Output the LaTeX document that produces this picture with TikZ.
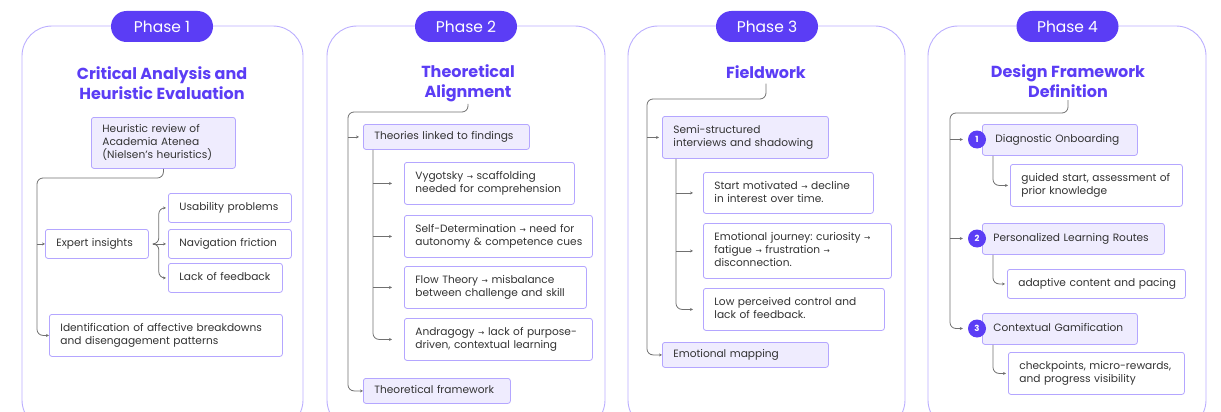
\documentclass[tikz,border=0pt]{standalone}
\usepackage{fontspec}
\setmainfont{Poppins}
\newfontfamily\symf{DejaVu Sans}
\usetikzlibrary{arrows.meta}
\definecolor{pur}{HTML}{5B3DF5}
\definecolor{lav}{HTML}{EFECFE}
\definecolor{bord}{HTML}{B4A6FF}
\definecolor{pbord}{HTML}{BBAEFF}
\definecolor{txt}{HTML}{333333}
\definecolor{lin}{HTML}{707070}
\frenchspacing
\newcommand\ra{{\symf\fontsize{7.5}{7.5}\selectfont →}}
\newcommand\tl[1]{\begin{tabular}{@{}l@{}}#1\end{tabular}}
\begin{document}
\begin{tikzpicture}[x=1pt,y=-1pt,
 panel/.style={draw=pbord,line width=0.9pt,rounded corners=30pt},
 pill/.style={fill=pur,text=white,rounded corners=15.5pt,minimum width=102pt,minimum height=31pt,inner sep=0pt,font=\fontsize{15.5}{15.5}\selectfont},
 ttl/.style={text=pur,align=center,font=\bfseries\fontsize{16}{20}\selectfont,inner sep=0pt},
 wbox/.style={draw=bord,fill=white,line width=0.8pt,rounded corners=2.5pt,inner xsep=11pt,inner ysep=0pt,anchor=north west,align=left,text=txt,font=\fontsize{10.6}{13}\selectfont},
 lbox/.style={wbox,fill=lav},
 conn/.style={draw=lin,line width=0.8pt,rounded corners=6pt,-{Stealth[length=3pt,width=3pt]}},
 num/.style={circle,fill=pur,text=white,minimum size=18pt,inner sep=0pt,font=\bfseries\fontsize{8.5}{8.5}\selectfont}]
\useasboundingbox (0,0) rectangle (1221,412);
\clip (0,0) rectangle (1221,412);
% panels
\draw[panel] (22,26) rectangle (303,430);
\draw[panel] (327,26) rectangle (605,430);
\draw[panel] (628,26) rectangle (905,430);
\draw[panel] (928,26) rectangle (1206,430);
\node[pill] (p1) at (162,26.5) {Phase 1};
\node[pill] (p2) at (466,26.5) {Phase 2};
\node[pill] (p3) at (767,26.5) {Phase 3};
\node[pill] (p4) at (1067.5,26.5) {Phase 4};
% ---------- Phase 1
\node[ttl] (t1) at (162,83) {Critical Analysis and\\Heuristic Evaluation};
\node[lbox,text width=122pt,minimum height=51pt] (h1) at (91,117) {\tl{Heuristic review of\\Academia Atenea\\(Nielsen’s heuristics)}};
\node[wbox,text width=81pt,minimum height=29pt] (exp) at (45,229) {\tl{Expert insights}};
\node[wbox,text width=101pt,minimum height=29pt] (us) at (168,193) {\tl{Usability problems}};
\node[wbox,text width=101pt,minimum height=29pt] (nav) at (168,229) {\tl{Navigation friction}};
\node[wbox,text width=92pt,minimum height=29pt] (lack) at (168,263) {\tl{Lack of feedback}};
\node[wbox,text width=211pt,minimum height=42pt] (idf) at (49,314) {\tl{Identification of affective breakdowns\\and disengagement patterns}};
\coordinate (k1) at (37,178);
\draw[conn] (h1.south) |- (k1) |- (idf.west);
\draw[conn] (k1 |- exp.west) -- (exp.west);
\coordinate (b1) at ([xshift=4pt]exp.east);
\draw[conn,shorten >=2pt] (b1) -- ++(6,0) |- (us.west);
\draw[conn,shorten >=2pt] (b1) -- (nav.west);
\draw[conn,shorten >=2pt] (b1) -- ++(6,0) |- (lack.west);
% ---------- Phase 2
\node[ttl] (t2) at (468,83) {Theoretical\\Alignment};
\node[lbox,text width=144pt,minimum height=25pt] (th) at (363,124) {\tl{Theories linked to findings}};
\node[wbox,text width=148pt,minimum height=42pt] (vy) at (404,162) {\tl{Vygotsky \ra{} scaffolding\\needed for comprehension}};
\node[wbox,text width=166pt,minimum height=42pt] (sd) at (404,215) {\tl{Self-Determination \ra{} need for\\autonomy \& competence cues}};
\node[wbox,text width=160pt,minimum height=42pt] (fl) at (404,266) {\tl{Flow Theory \ra{} misbalance\\between challenge and skill}};
\node[wbox,text width=166pt,minimum height=42pt] (an) at (404,318) {\tl{Andragogy \ra{} lack of purpose-\\driven, contextual learning}};
\node[lbox,text width=125pt,minimum height=25pt] (tf) at (363,378) {\tl{Theoretical framework}};
\coordinate (k2) at (348,112);
\draw[conn] ([yshift=-2pt]t2.south) |- (k2) |- (tf.west);
\draw[conn,shorten >=4pt] (k2 |- th.west) -- (th.west);
\coordinate (q2) at ([xshift=10pt]th.south west);
\draw[conn,shorten >=12pt] (q2) |- (an.west);
\foreach \n in {vy,sd,fl} \draw[conn,shorten >=12pt] (q2 |- \n.west) -- (\n.west);
% ---------- Phase 3
\node[ttl] (t3) at (766,72) {Fieldwork};
\node[lbox,text width=144pt,minimum height=42pt] (ss) at (662,116) {\tl{Semi-structured\\interviews and shadowing}};
\node[wbox,text width=148pt,minimum height=41pt] (sm) at (703,172) {\tl{Start motivated \ra{} decline\\in interest over time.}};
\node[wbox,text width=166pt,minimum height=55pt] (ej) at (703,223) {\tl{Emotional journey: curiosity \ra\\fatigue \ra{} frustration \ra\\disconnection.}};
\node[wbox,text width=159pt,minimum height=42pt] (lp) at (703,288) {\tl{Low perceived control and\\lack of feedback.}};
\node[lbox,text width=144pt,minimum height=25pt] (em) at (662,342) {\tl{Emotional mapping}};
\coordinate (k3) at (647,99);
\draw[conn] ([yshift=-5pt]t3.south) |- (k3) |- (em.west);
\draw[conn,shorten >=3pt] (k3 |- ss.west) -- (ss.west);
\coordinate (q3) at ([xshift=14pt]ss.south west);
\draw[conn,shorten >=10pt] (q3) |- (lp.west);
\foreach \n in {sm,ej} \draw[conn,shorten >=10pt] (q3 |- \n.west) -- (\n.west);
% ---------- Phase 4
\node[ttl] (t4) at (1068,81.5) {Design Framework\\Definition};
\node[lbox,text width=133pt,minimum height=31pt] (d1) at (982,124) {\tl{\hspace{2pt}Diagnostic Onboarding}};
\node[wbox,text width=150pt,minimum height=42pt] (g1) at (1010,164) {\tl{guided start, assessment of\\prior knowledge}};
\node[lbox,text width=160pt,minimum height=31pt] (d2) at (982,223) {\tl{Personalized Learning Routes}};
\node[wbox,text width=156pt,minimum height=29pt] (g2) at (1007,269) {\tl{adaptive content and pacing}};
\node[lbox,text width=133pt,minimum height=31pt] (d3) at (982,313) {\tl{Contextual Gamification}};
\node[wbox,text width=154pt,minimum height=42pt] (g3) at (1008,352) {\tl{checkpoints, micro-rewards,\\and progress visibility}};
\node[num] (c1) at (977,139.5) {1};
\node[num] (c2) at (977,238.5) {2};
\node[num] (c3) at (977,328.5) {3};
\coordinate (k4) at (950,113);
\draw[conn,shorten >=5pt] ([yshift=-2pt]t4.south) |- (k4) |- (c3.west);
\draw[conn,shorten >=5pt] (k4 |- c1.west) -- (c1.west);
\draw[conn,shorten >=5pt] (k4 |- c2.west) -- (c2.west);
\draw[conn,shorten >=2pt] ([xshift=11pt]d1.south west) |- (g1.west);
\draw[conn,shorten >=2pt] ([xshift=11pt]d2.south west) |- (g2.west);
\draw[conn,shorten >=2pt] ([xshift=11pt]d3.south west) |- (g3.west);
\end{tikzpicture}
\end{document}
